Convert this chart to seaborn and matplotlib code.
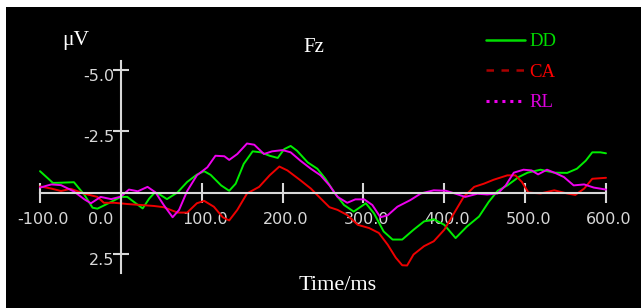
import numpy as np
import pandas as pd
import matplotlib
matplotlib.use("Agg")
import matplotlib.pyplot as plt
import matplotlib.transforms as mtransforms
from matplotlib.lines import Line2D
import seaborn as sns

# Dados (tempo em ms, amplitude em µV)
dd_t = [-100, -84, -74, -58, -45, -35, -29, -16, 0, 8, 16, 27, 35, 42, 49, 57, 70, 82, 94, 103,
        111, 124, 134, 142, 152, 163, 173, 184, 194, 202, 210, 218, 231, 243, 253, 264, 276, 288, 303, 313,
        325, 336, 348, 362, 375, 387, 400, 414, 428, 443, 455, 466, 478, 492, 503, 519, 536, 552, 564, 575,
        583, 593, 600]
dd_v = [-0.87, -0.39, -0.4, -0.42, 0.1, 0.62, 0.66, 0.45, 0.18, 0.18, 0.38, 0.65, 0.25, 0.0, 0.1, 0.27, 0.0, -0.43, -0.73, -0.87,
        -0.72, -0.29, -0.07, -0.36, -1.17, -1.68, -1.64, -1.5, -1.41, -1.77, -1.9, -1.7, -1.23, -0.97, -0.56, 0.0, 0.51, 0.78, 0.44, 0.85,
        1.59, 1.92, 1.92, 1.52, 1.18, 1.09, 1.32, 1.86, 1.39, 0.98, 0.38, -0.07, -0.29, -0.63, -0.81, -0.93, -0.81, -0.8, -0.97, -1.3,
        -1.64, -1.64, -1.6]

ca_t = [-100, -86, -74, -62, -45, -29, -21, -8, 8, 25, 41, 53, 70, 82, 94, 103, 115, 126, 134, 144,
        156, 171, 184, 196, 206, 222, 235, 247, 258, 268, 280, 293, 307, 319, 330, 340, 348, 354, 362, 375,
        387, 400, 412, 424, 437, 449, 461, 478, 488, 496, 504, 519, 536, 552, 562, 573, 583, 600]
ca_v = [-0.25, -0.16, -0.06, -0.15, 0.05, 0.18, 0.42, 0.42, 0.47, 0.51, 0.55, 0.6, 0.82, 0.82, 0.44, 0.34, 0.58, 1.01, 1.14, 0.71,
        0.04, -0.23, -0.7, -1.06, -0.9, -0.5, -0.16, 0.24, 0.6, 0.71, 0.92, 1.32, 1.45, 1.65, 2.13, 2.66, 2.97, 2.98, 2.53, 2.19,
        1.99, 1.52, 0.85, 0.18, -0.23, -0.36, -0.52, -0.7, -0.7, -0.43, 0.0, 0.04, -0.09, 0.04, 0.1, -0.16, -0.56, -0.6]

rl_t = [-100, -86, -74, -58, -45, -37, -25, -12, 0, 10, 21, 33, 43, 53, 64, 72, 82, 94, 107, 117,
        128, 134, 144, 156, 165, 177, 187, 200, 210, 222, 235, 247, 258, 268, 280, 290, 301, 311, 321, 330,
        342, 358, 371, 387, 402, 414, 426, 441, 453, 466, 476, 486, 498, 508, 516, 527, 537, 548, 560, 573,
        585, 600]
rl_v = [-0.2, -0.33, -0.3, -0.04, 0.28, 0.44, 0.18, 0.27, 0.17, -0.12, -0.05, -0.23, 0.0, 0.51, 1.01, 0.71, -0.06, -0.7, -1.03, -1.5,
        -1.48, -1.33, -1.57, -2.0, -1.95, -1.57, -1.68, -1.73, -1.64, -1.3, -0.97, -0.7, -0.29, 0.18, 0.42, 0.28, 0.28, 0.51, 1.01, 0.93,
        0.58, 0.31, 0.04, -0.09, -0.07, 0.05, 0.18, 0.05, 0.08, 0.04, -0.29, -0.81, -0.93, -0.9, -0.74, -0.93, -0.8, -0.63, -0.29, -0.33,
        -0.2, -0.12]

x_ticks = [-100, 0, 100, 200, 300, 400, 500, 600]
y_ticks = [-5.0, -2.5, 2.5]

sns.set_style("dark", {"axes.facecolor": "black", "figure.facecolor": "white"})

W, H = 641, 308
fig = plt.figure(figsize=(W / 100, H / 100), dpi=100)
ax = fig.add_axes([6 / W, 0, (W - 6) / W, (H - 7) / H])
ax.set_facecolor("black")

# Curvas
sns.lineplot(x=dd_t, y=dd_v, ax=ax, color="#00ee00", lw=1.4)
sns.lineplot(x=ca_t, y=ca_v, ax=ax, color="#ee0000", lw=1.4)
sns.lineplot(x=rl_t, y=rl_v, ax=ax, color="#ee00ee", lw=1.4)

# Escalas (eixo y invertido, negativo para cima)
px_per_ms = 566 / 700
px_per_uv = 24.5
y0_px = 192.5
ax.set_xlim(-100 - 34 / px_per_ms, 600 + 35 / px_per_ms)
ax.set_ylim((308 - y0_px) / px_per_uv, (7 - y0_px) / px_per_uv)
ax.grid(False)

# Eixos cruzando em (0, 0)
axis_col = "#d8d8d8"
for s in ["top", "right"]:
    ax.spines[s].set_visible(False)
ax.spines["left"].set_position(("data", 0))
ax.spines["bottom"].set_position(("data", 0))
ax.spines["left"].set_bounds(-5.35, 3.3)
ax.spines["bottom"].set_bounds(-100, 600)
for s in ["left", "bottom"]:
    ax.spines[s].set_color(axis_col)
    ax.spines[s].set_linewidth(1.5)

ax.set_xticks(x_ticks)
ax.set_xticklabels([f"{v:.1f}" for v in x_ticks])
ax.set_yticks(y_ticks)
ax.set_yticklabels([f"{v:.1f}" for v in y_ticks])
ax.tick_params(axis="x", direction="inout", length=14, width=1.5, color=axis_col,
               labelcolor=axis_col, labelsize=11.5, pad=7, bottom=True)
ax.tick_params(axis="y", direction="inout", length=12, width=1.5, color=axis_col,
               labelcolor=axis_col, labelsize=11.5, pad=-1.5, left=True)
for lbl in ax.get_xticklabels() + ax.get_yticklabels():
    lbl.set_family("DejaVu Sans")
off_y = mtransforms.ScaledTranslation(0, -5 / 100, fig.dpi_scale_trans)
for lbl in ax.get_yticklabels():
    lbl.set_transform(lbl.get_transform() + off_y)
off_x = mtransforms.ScaledTranslation(3 / 100, 0, fig.dpi_scale_trans)
for lbl in ax.get_xticklabels():
    lbl.set_transform(lbl.get_transform() + off_x)
# o rótulo 0.0 fica à esquerda do eixo y
zero_lbl = ax.get_xticklabels()[1]
zero_lbl.set_ha("right")
zero_lbl.set_transform(zero_lbl.get_transform()
                       + mtransforms.ScaledTranslation(-10 / 100, 0, fig.dpi_scale_trans))
ax.set_xlabel("")
ax.set_ylabel("")

# Textos
serif = "Liberation Serif"
fig.text(76 / W, 1 - 40 / H, "μV", color="white", fontsize=15.5, family=serif, ha="center", va="center")
fig.text(314 / W, 1 - 48 / H, "Fz", color="white", fontsize=15, family=serif, ha="center", va="center")
fig.text(338 / W, 1 - 286 / H, "Time/ms", color="white", fontsize=16, family=serif, ha="center", va="center")

# Legenda
handles = [
    Line2D([], [], color="#00dd00", lw=1.8, ls="-"),
    Line2D([], [], color="#aa0000", lw=1.8, ls=(0, (3, 3))),
    Line2D([], [], color="#ee00ee", lw=2.2, ls=(0, (1, 1.6))),
]
leg = fig.legend(handles, ["DD", "CA", "RL"], loc="upper left",
                 bbox_to_anchor=(486 / W, 1 - 33 / H), frameon=False,
                 prop={"family": serif, "size": 13.5}, handlelength=2.1,
                 handletextpad=0.2, labelspacing=0.72, borderpad=0, borderaxespad=0)
for txt, c in zip(leg.get_texts(), ["#00dd00", "#ff0000", "#dd00dd"]):
    txt.set_color(c)

fig.savefig("out.png", dpi=100, facecolor="white")
